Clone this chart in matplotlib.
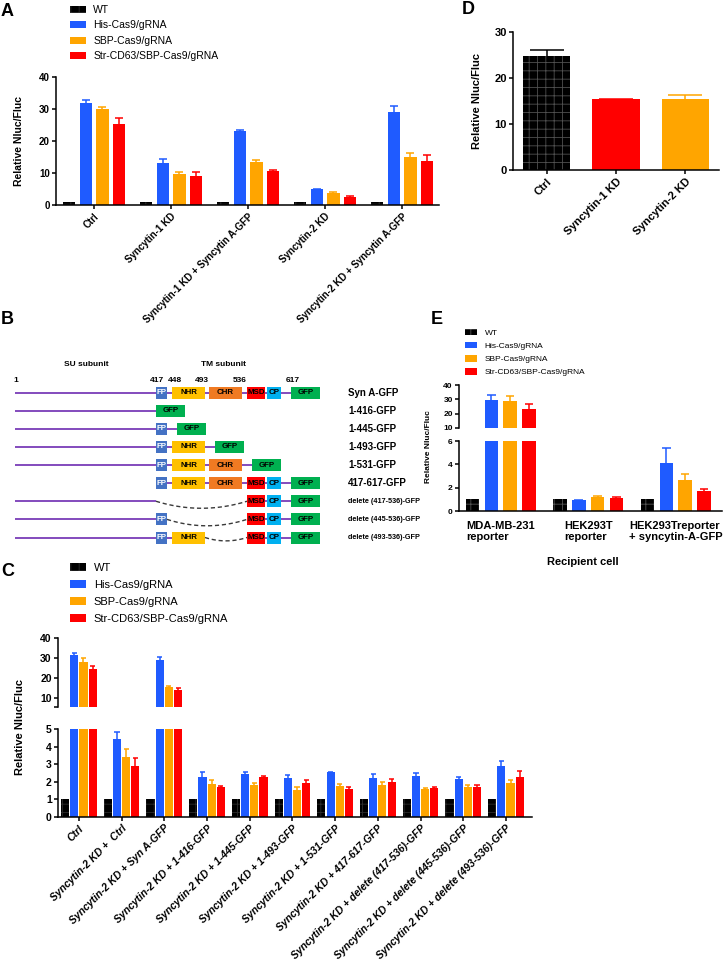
import numpy as np
import matplotlib
matplotlib.use('Agg')
import matplotlib.pyplot as plt
from matplotlib.patches import Rectangle

plt.rcParams['font.family'] = ['Liberation Sans', 'DejaVu Sans']
plt.rcParams['font.weight'] = 'bold'
plt.rcParams['axes.linewidth'] = 1.1
plt.rcParams['hatch.linewidth'] = 0.6

# series shared by panels A, C, E
series_names = ["WT", "His-Cas9/gRNA", "SBP-Cas9/gRNA", "Str-CD63/SBP-Cas9/gRNA"]
series_colors = ['black', '#1F5BFF', '#FFA500', '#FF0000']

# panel A
a_groups = ["Ctrl", "Syncytin-1 KD", "Syncytin-1 KD + Syncytin A-GFP",
            "Syncytin-2 KD", "Syncytin-2 KD + Syncytin A-GFP"]
a_wt = [1.0, 1.0, 1.0, 1.0, 1.0]
a_his = [31.9, 13.0, 23.0, 4.9, 29.2]
a_his_err = [0.9, 1.3, 0.4, 0.15, 1.7]
a_sbp = [29.9, 9.7, 13.5, 3.8, 15.1]
a_sbp_err = [0.8, 0.6, 0.7, 0.3, 1.2]
a_str = [25.3, 9.1, 10.7, 2.6, 13.8]
a_str_err = [1.8, 1.2, 0.1, 0.1, 1.7]

# panel D
d_groups = ["Ctrl", "Syncytin-1 KD", "Syncytin-2 KD"]
d_vals = [24.8, 15.4, 15.5]
d_err = [1.3, 0.1, 0.8]
d_colors = ['black', '#FF0000', '#FFA500']

# panel C
c_groups = ["Ctrl", "Syncytin-2 KD +  Ctrl", "Syncytin-2 KD + Syn A-GFP",
            "Syncytin-2 KD + 1-416-GFP", "Syncytin-2 KD + 1-445-GFP",
            "Syncytin-2 KD + 1-493-GFP", "Syncytin-2 KD + 1-531-GFP",
            "Syncytin-2 KD + 417-617-GFP", "Syncytin-2 KD + delete (417-536)-GFP",
            "Syncytin-2 KD + delete (445-536)-GFP", "Syncytin-2 KD + delete (493-536)-GFP"]
c_wt = [1.0] * 11
c_his = [31.5, 4.42, 29.0, 2.26, 2.45, 2.21, 2.53, 2.21, 2.34, 2.15, 2.87]
c_his_err = [0.8, 0.43, 1.3, 0.27, 0.13, 0.17, 0.05, 0.22, 0.15, 0.11, 0.30]
c_sbp = [28.2, 3.43, 15.7, 1.87, 1.83, 1.55, 1.77, 1.83, 1.57, 1.68, 1.96]
c_sbp_err = [2.0, 0.42, 0.5, 0.22, 0.09, 0.15, 0.10, 0.15, 0.07, 0.15, 0.15]
c_str = [24.3, 2.87, 14.0, 1.68, 2.30, 1.96, 1.60, 2.00, 1.62, 1.70, 2.30]
c_str_err = [1.7, 0.51, 1.2, 0.09, 0.04, 0.12, 0.08, 0.15, 0.10, 0.13, 0.30]

# panel E
e_groups = ["MDA-MB-231\nreporter", "HEK293T\nreporter", "HEK293Treporter\n+ syncytin-A-GFP"]
e_wt = [1.0, 1.0, 1.0]
e_his = [29.7, 0.95, 4.09]
e_his_err = [3.5, 0.03, 1.28]
e_sbp = [28.5, 1.17, 2.66]
e_sbp_err = [3.5, 0.10, 0.48]
e_str = [23.2, 1.14, 1.71]
e_str_err = [3.8, 0.06, 0.15]

# panel B constructs
b_labels = ["Syn A-GFP", "1-416-GFP", "1-445-GFP", "1-493-GFP", "1-531-GFP",
            "417-617-GFP", "delete (417-536)-GFP", "delete (445-536)-GFP",
            "delete (493-536)-GFP"]
b_has_su = [1, 1, 1, 1, 1, 0, 1, 1, 1]
b_domains = [[0, 1, 2, 3, 4], [], [0], [0, 1], [0, 1, 2], [0, 1, 2, 3, 4],
             [3, 4], [0, 3, 4], [0, 1, 3, 4]]
dom_names = ["FP", "NHR", "CHR", "MSD", "CP"]
dom_colors = ['#4472C4', '#FFC000', '#F07A22', '#FF0000', '#00B0F0']
dom_x0 = [156, 172, 209, 247, 267]
dom_x1 = [167, 205, 242, 265, 281]
b_gfp_x0 = [291, 156, 177, 215, 252, 291, 291, 291, 291]
b_positions = ["1", "417", "448", "493", "536", "617"]
b_pos_x = [16, 157, 175, 202, 240, 293]

W, H = 726, 968
fig = plt.figure(figsize=(W / 100, H / 100), dpi=100)


def add_ax(x0, y0, x1, y1):
    return fig.add_axes([x0 / W, 1 - y1 / H, (x1 - x0) / W, (y1 - y0) / H])


def style(ax, bottom=True, tsize=7):
    ax.spines['top'].set_visible(False)
    ax.spines['right'].set_visible(False)
    ax.tick_params(width=1.1, length=3, labelsize=tsize, pad=1.5)
    if not bottom:
        ax.spines['bottom'].set_visible(False)
        ax.tick_params(axis='x', length=0, labelbottom=False)
    ax.patch.set_alpha(0)


def err_up(ax, xs, vals, errs, color, capw):
    xs = np.asarray(xs, dtype=float)
    vals = np.asarray(vals, dtype=float)
    tops = vals + np.asarray(errs, dtype=float)
    ax.vlines(xs, vals, tops, color=color, lw=1.1)
    ax.hlines(tops, xs - capw / 2, xs + capw / 2, color=color, lw=1.1)


def draw_groups(ax, data, errs, width, capw, hatch_col='#2e2e2e'):
    offsets = [-0.323, -0.107, 0.107, 0.323]
    handles = []
    for k in range(4):
        xs = np.arange(len(data[k])) + offsets[k]
        if k == 0:
            h = ax.bar(xs, data[k], width, color='black', edgecolor=hatch_col,
                       hatch='++', linewidth=0, label=series_names[k])
        else:
            h = ax.bar(xs, data[k], width, color=series_colors[k], linewidth=0,
                       label=series_names[k])
            err_up(ax, xs, data[k], errs[k], series_colors[k], capw)
        handles.append(h)
    return handles


def ylabel(x, y, size):
    fig.text(x / W, 1 - y / H, "Relative Nluc/Fluc", rotation=90, ha='center',
             va='center', fontsize=size, fontweight='bold')


def letter(x, y, s):
    fig.text(x / W, 1 - y / H, s, fontsize=13, fontweight='bold', ha='left', va='center')


# ---------- A ----------
ax = add_ax(56, 77, 439, 205)
hs = draw_groups(ax, [a_wt, a_his, a_sbp, a_str], [None, a_his_err, a_sbp_err, a_str_err],
                 0.162, 0.1)
ax.set_xlim(-0.494, 4.48)
ax.set_ylim(0, 40)
ax.set_yticks([0, 10, 20, 30, 40])
ax.set_xticks(range(len(a_groups)))
ax.set_xticklabels(a_groups, rotation=45, ha='right', rotation_mode='anchor')
style(ax, tsize=7)
fig.legend(hs, series_names, loc='upper left', bbox_to_anchor=(70 / W, 1 - 5 / H),
           frameon=False, prop={'weight': 'normal', 'size': 7.5},
           handlelength=1.55, handleheight=0.7, labelspacing=0.52,
           handletextpad=0.7, borderpad=0, borderaxespad=0)
ylabel(19, 141, 7.5)
letter(1, 11, "A")

# ---------- D ----------
ax = add_ax(513, 32, 719, 170)
x = np.arange(len(d_groups))
for i in range(len(d_groups)):
    if i == 0:
        ax.bar(x[i], d_vals[i], 0.68, color='black', edgecolor='#505050', hatch='++', linewidth=0)
    else:
        ax.bar(x[i], d_vals[i], 0.68, color=d_colors[i], linewidth=0)
    err_up(ax, [x[i]], [d_vals[i]], [d_err[i]], d_colors[i], 0.5)
ax.set_xlim(-0.49, 2.49)
ax.set_ylim(0, 30)
ax.set_yticks([0, 10, 20, 30])
ax.set_xticks(x)
ax.set_xticklabels(d_groups, rotation=45, ha='right', rotation_mode='anchor')
style(ax, tsize=8)
ylabel(477, 101, 8)
letter(462, 9, "D")

# ---------- B ----------
ax = add_ax(0, 330, 370, 550)
ax.set_xlim(0, 370)
ax.set_ylim(550, 330)
ax.axis('off')
purple = '#7A3DB8'
rows_y = np.linspace(392.5, 537.5, len(b_labels))
ax.text(86, 365, "SU subunit", ha='center', va='center', fontsize=6)
ax.text(223, 365, "TM subunit", ha='center', va='center', fontsize=6)
for lab, px in zip(b_positions, b_pos_x):
    ax.text(px, 381, lab, ha='center', va='center', fontsize=6)
for r, y in enumerate(rows_y):
    boxes = [(dom_x0[i], dom_x1[i], dom_names[i], dom_colors[i], i) for i in b_domains[r]]
    boxes.append((b_gfp_x0[r], b_gfp_x0[r] + 28.5, "GFP", '#00B050', 5))
    prev_end, prev_idx = None, -1
    if b_has_su[r]:
        ax.plot([15, 156], [y, y], color=purple, lw=1.3, solid_capstyle='butt')
        prev_end = 156
    for (x0, x1, name, col, idx) in boxes:
        if prev_end is not None and x0 > prev_end:
            if idx - prev_idx > 1 and idx != 5:
                t = np.linspace(0, 1, 40)
                sag = min(7, (x0 - prev_end) * 0.08)
                ax.plot(prev_end + (x0 - prev_end) * t, y + sag * 4 * t * (1 - t),
                        color='#3a3a3a', lw=1.0, ls=(0, (3, 2)))
            else:
                ax.plot([prev_end, x0], [y, y], color=purple, lw=1.3, solid_capstyle='butt')
        ax.add_patch(Rectangle((x0, y - 6), x1 - x0, 12, facecolor=col, edgecolor='none'))
        ax.text((x0 + x1) / 2, y, name, ha='center', va='center', fontsize=5.7,
                color='white' if name == "FP" else 'black')
        prev_end, prev_idx = x1, idx
    ax.text(348, y, b_labels[r], ha='left', va='center', clip_on=False,
            fontsize=5.2 if b_labels[r].startswith("delete") else 7)
letter(1, 320, "B")

# ---------- C ----------
ax_lo = add_ax(58, 729, 532, 817)
ax_hi = add_ax(58, 638, 532, 707)
c_data = [c_wt, c_his, c_sbp, c_str]
c_errs = [None, c_his_err, c_sbp_err, c_str_err]
hs = draw_groups(ax_lo, c_data, c_errs, 0.19, 0.12)
draw_groups(ax_hi, c_data, c_errs, 0.19, 0.12)
for a in (ax_lo, ax_hi):
    a.set_xlim(-0.49, 10.61)
ax_lo.set_ylim(0, 5)
ax_lo.set_yticks([0, 1, 2, 3, 4, 5])
ax_hi.set_ylim(5.5, 40)
ax_hi.set_yticks([5.5, 10, 20, 30, 40])
ax_hi.set_yticklabels(['', '10', '20', '30', '40'])
ax_lo.set_xticks(range(len(c_groups)))
ax_lo.set_xticklabels(c_groups, rotation=45, ha='right', rotation_mode='anchor',
                      fontstyle='italic', fontsize=7.5)
style(ax_lo, tsize=7.5)
style(ax_hi, bottom=False, tsize=7.5)
fig.legend(hs, series_names, loc='upper left', bbox_to_anchor=(70 / W, 1 - 563 / H),
           frameon=False, prop={'weight': 'normal', 'size': 8},
           handlelength=1.45, handleheight=0.72, labelspacing=0.62,
           handletextpad=0.7, borderpad=0, borderaxespad=0)
ylabel(20, 727, 8)
letter(1, 572, "C")

# ---------- E ----------
ax_lo = add_ax(459, 441, 722, 511)
ax_hi = add_ax(459, 385, 722, 428)
e_data = [e_wt, e_his, e_sbp, e_str]
e_errs = [None, e_his_err, e_sbp_err, e_str_err]
hs = draw_groups(ax_lo, e_data, e_errs, 0.154, 0.1, hatch_col='#555555')
draw_groups(ax_hi, e_data, e_errs, 0.154, 0.1, hatch_col='#555555')
for a in (ax_lo, ax_hi):
    a.set_xlim(-0.477, 2.53)
ax_lo.set_ylim(0, 6)
ax_lo.set_yticks([0, 2, 4, 6])
ax_hi.set_ylim(10, 40)
ax_hi.set_yticks([10, 20, 30, 40])
style(ax_lo, tsize=6)
style(ax_hi, bottom=False, tsize=6)
ax_lo.set_xticks(range(len(e_groups)))
ax_lo.set_xticklabels(e_groups, fontsize=8, multialignment='left', va='top')
ax_lo.tick_params(axis='x', length=0, pad=7)
fig.text(583 / W, 1 - 562 / H, "Recipient cell", ha='center', va='center', fontsize=8)
fig.legend(hs, series_names, loc='upper left', bbox_to_anchor=(465 / W, 1 - 329 / H),
           frameon=False, prop={'weight': 'normal', 'size': 6},
           handlelength=1.45, handleheight=0.8, labelspacing=0.6,
           handletextpad=0.9, borderpad=0, borderaxespad=0)
ylabel(429, 447, 6)
letter(431, 320, "E")

fig.savefig('out.png', dpi=100)
